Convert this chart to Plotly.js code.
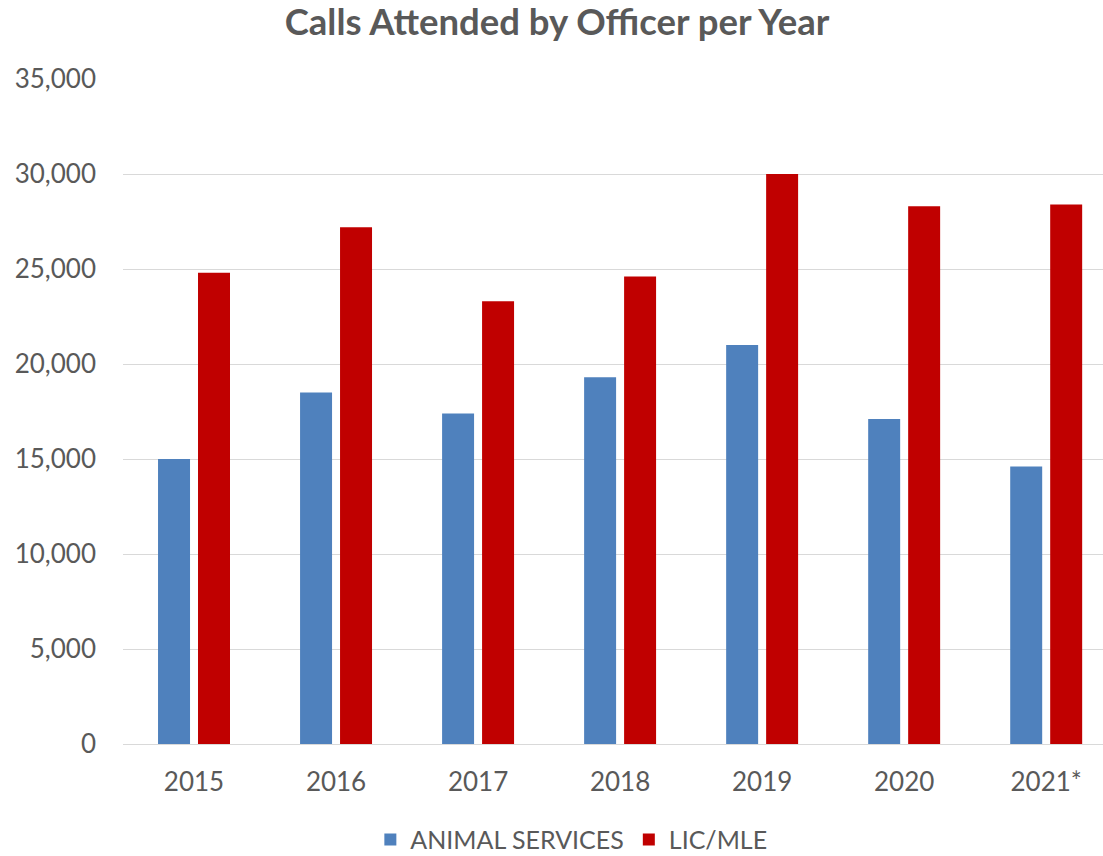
<!DOCTYPE html>
<html>
<head>
<meta charset="utf-8">
<script src="https://cdn.plot.ly/plotly-3.0.1.min.js"></script>
<style>
  html, body { margin: 0; padding: 0; background: #fff; }
  #chart { width: 1103px; height: 856px; }
</style>
</head>
<body>
<div id="chart"></div>
<script>
// Category labels and series values
const years = ['2015', '2016', '2017', '2018', '2019', '2020', '2021*'];
const animalServices = [15000, 18500, 17400, 19300, 21000, 17100, 14600];
const licMle = [24800, 27200, 23300, 24600, 30000, 28300, 28400];

const textColor = '#595959';
const font = 'Lato, "Open Sans", sans-serif';

const data = [
    {
        type: 'bar',
        name: 'ANIMAL SERVICES',
        x: years,
        y: animalServices,
        marker: { color: '#4f81bd' }
    },
    {
        type: 'bar',
        name: 'LIC/MLE',
        x: years,
        y: licMle,
        marker: { color: '#c00000' }
    }
];

const layout = {
    width: 1103,
    height: 856,
    margin: { l: 123, r: 0, t: 79, b: 112, autoexpand: false },
    paper_bgcolor: '#fff',
    plot_bgcolor: '#fff',
    font: { family: font, color: textColor, size: 26 },
    title: {
        text: '<b>Calls Attended by Officer per Year</b>',
        font: { family: font, size: 36.5, color: textColor },
        x: 0.505,
        xanchor: 'center',
        y: 0.974,
        yanchor: 'middle',
        xref: 'container',
        yref: 'container'
    },
    barmode: 'group',
    bargap: 0.437,
    bargroupgap: 0.2,
    xaxis: {
        type: 'category',
        range: [-0.5, 6.4],
        showline: true,
        linecolor: '#d9d9d9',
        linewidth: 1,
        showgrid: false,
        ticks: '',
        ticklabelstandoff: 15,
        tickfont: { size: 26, color: textColor }
    },
    yaxis: {
        range: [0, 35000],
        dtick: 5000,
        tickformat: ',d',
        showgrid: true,
        gridcolor: '#d9d9d9',
        gridwidth: 1,
        zeroline: false,
        showline: false,
        ticks: '',
        ticklabelstandoff: 26,
        tickfont: { size: 26, color: textColor }
    },
    showlegend: true,
    legend: {
        orientation: 'h',
        x: 0.518,
        xref: 'container',
        xanchor: 'center',
        y: 0.019,
        yref: 'container',
        yanchor: 'middle',
        font: { size: 25, color: textColor },
        itemwidth: 30
    }
};

Plotly.newPlot('chart', data, layout, { displayModeBar: false, staticPlot: true });
</script>
</body>
</html>
